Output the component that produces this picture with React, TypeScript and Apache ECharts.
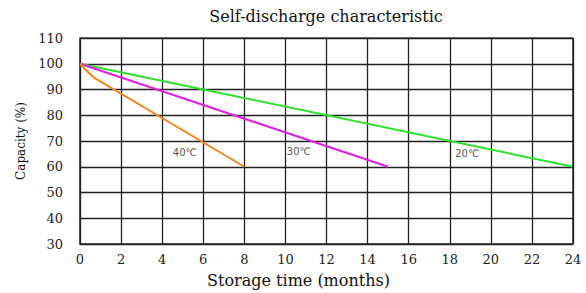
import React, { useEffect, useRef } from "react";
import * as echarts from "echarts";

const title = "Self-discharge characteristic";
const xName = "Storage time (months)";
const yName = "Capacity (%)";

const s40: [number, number][] = [[0, 100], [0.3, 97.5], [0.7, 94.5], [8, 60]];
const s30: [number, number][] = [[0, 100], [15, 60]];
const s20: [number, number][] = [[0, 100], [24, 60]];

const labels = [
  { text: "40℃", x: 5.1, y: 65.7 },
  { text: "30℃", x: 10.65, y: 66.1 },
  { text: "20℃", x: 18.85, y: 65.2 },
];

export default function App() {
  const ref = useRef<HTMLDivElement>(null);
  useEffect(() => {
    const chart = echarts.init(ref.current!, null, { renderer: "svg" });
    const serif = "DejaVu Serif";
    const mkLine = (name: string, data: [number, number][], color: string) => ({
      name,
      type: "line",
      data,
      symbol: "none",
      lineStyle: { color, width: 2 },
      z: 3,
    });
    chart.setOption({
      animation: false,
      backgroundColor: "#fff",
      textStyle: { fontFamily: serif },
      title: {
        text: title,
        left: 321,
        top: 3,
        textAlign: "center",
        textStyle: { fontFamily: serif, fontSize: 16, fontWeight: "normal", color: "#111" },
      },
      grid: { left: 80, right: 13, top: 38, bottom: 49 },
      xAxis: {
        type: "value",
        min: 0,
        max: 24,
        interval: 2,
        name: xName,
        nameLocation: "middle",
        nameGap: 28,
        nameTextStyle: { fontFamily: serif, fontSize: 16, color: "#111", padding: [0, 56, 0, 0] },
        axisLine: { show: true, lineStyle: { color: "#222", width: 1.5 } },
        axisTick: { show: false },
        axisLabel: { fontFamily: serif, fontSize: 13, color: "#222", margin: 9 },
        splitLine: { show: true, lineStyle: { color: "#222", width: 1.3 } },
      },
      yAxis: {
        type: "value",
        min: 30,
        max: 110,
        interval: 10,
        name: yName,
        nameLocation: "middle",
        nameGap: 52,
        nameTextStyle: { fontFamily: serif, fontSize: 12, color: "#111" },
        axisLine: { show: true, lineStyle: { color: "#222", width: 1.5 } },
        axisTick: { show: false },
        axisLabel: { fontFamily: serif, fontSize: 13, color: "#222", margin: 17 },
        splitLine: { show: true, lineStyle: { color: "#222", width: 1.3 } },
      },
      series: [
        mkLine("20℃", s20, "#2EE02E"),
        mkLine("30℃", s30, "#E020E0"),
        mkLine("40℃", s40, "#F0851E"),
        {
          type: "scatter",
          data: labels.map((l) => ({ value: [l.x, l.y], name: l.text })),
          symbolSize: 0,
          label: {
            show: true,
            position: "inside",
            formatter: (p: any) => p.name,
            fontFamily: "DejaVu Sans",
            fontSize: 10,
            color: "#222",
          },
          z: 4,
        },
        {
          type: "line",
          data: [[24, 30], [24, 110]],
          symbol: "none",
          lineStyle: { color: "#222", width: 1.5 },
        },
        {
          type: "line",
          data: [[0, 110], [24, 110]],
          symbol: "none",
          lineStyle: { color: "#222", width: 1.5 },
        },
      ],
    });
    return () => chart.dispose();
  }, []);
  return (
    <div
      ref={ref}
      style={{ position: "absolute", left: 0, top: 0, width: 586, height: 293 }}
    />
  );
}
